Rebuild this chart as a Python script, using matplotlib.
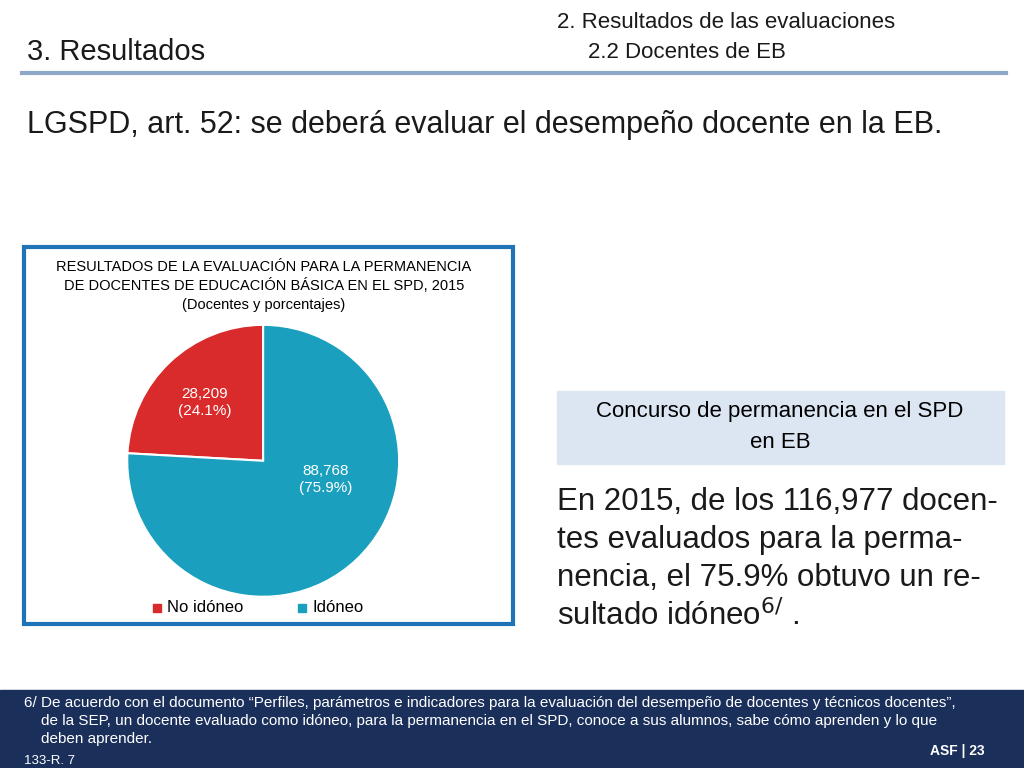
import matplotlib.pyplot as plt
from matplotlib.patches import Rectangle

plt.rcParams["font.family"] = "Liberation Sans"

# data
labels = ["No idóneo", "Idóneo"]
docentes = [28209, 88768]
porcentajes = [24.1, 75.9]
colores = ["#D92B2B", "#1AA0BE"]

W, H = 1024, 768
fig = plt.figure(figsize=(10.24, 7.68), dpi=100)
bg = fig.add_axes([0, 0, 1, 1])
bg.set_xlim(0, W)
bg.set_ylim(H, 0)
bg.axis("off")

# header
bg.text(27, 52, "3. Resultados", fontsize=21, va="center", color="#1a1a1a")
bg.text(557, 22, "2. Resultados de las evaluaciones", fontsize=16, va="center", color="#1a1a1a")
bg.text(588, 52, "2.2 Docentes de EB", fontsize=16, va="center", color="#1a1a1a")
bg.plot([22, 1006], [73, 73], color="#8EA9C8", lw=3)
bg.text(27, 125, "LGSPD, art. 52: se deberá evaluar el desempeño docente en la EB.",
        fontsize=22, va="center", color="#1a1a1a")

# chart frame
bg.add_patch(Rectangle((24, 247), 489, 377, fill=False, ec="#1F73B7", lw=3))
bg.text(264, 267, "RESULTADOS DE LA EVALUACIÓN PARA LA PERMANENCIA", fontsize=10.5, ha="center", va="center")
bg.text(264, 286, "DE DOCENTES DE EDUCACIÓN BÁSICA EN EL SPD, 2015", fontsize=10.5, ha="center", va="center")
bg.text(264, 305, "(Docentes y porcentajes)", fontsize=10.5, ha="center", va="center")

# legend
for x, lab, c in [(153, labels[0], colores[0]), (298, labels[1], colores[1])]:
    bg.add_patch(Rectangle((x, 604), 8, 8, color=c))
    bg.text(x + 14, 608, lab, fontsize=12, va="center")

# right panel
bg.add_patch(Rectangle((557, 391), 447, 73, color="#DCE6F2"))
bg.text(780, 412, "Concurso de permanencia en el SPD", fontsize=16, ha="center", va="center")
bg.text(780, 443, "en EB", fontsize=16, ha="center", va="center")
lines = ["En 2015, de los 116,977 docen-", "tes evaluados para la perma-",
         "nencia, el 75.9% obtuvo un re-", "sultado idóneo$^{6/}$ ."]
for i, t in enumerate(lines):
    bg.text(557, 502 + i * 38, t, fontsize=22.5, va="center", color="#1a1a1a")

# footer
bg.add_patch(Rectangle((0, 690), W, 78, color="#1B2F5B"))
foot = ["6/ De acuerdo con el documento “Perfiles, parámetros e indicadores para la evaluación del desempeño de docentes y técnicos docentes”,",
        "    de la SEP, un docente evaluado como idóneo, para la permanencia en el SPD, conoce a sus alumnos, sabe cómo aprenden y lo que",
        "    deben aprender."]
for i, t in enumerate(foot):
    bg.text(24, 703 + i * 18, t, fontsize=11, va="center", color="white")
bg.text(24, 761, "133-R. 7", fontsize=9.5, va="center", color="white")
bg.text(985, 751, "ASF | 23", fontsize=10, va="center", ha="right", color="white", weight="bold")

# pie
ax = fig.add_axes([0.124, 0.223, 0.266, 0.354])
ax.pie(docentes, colors=colores, startangle=90, counterclock=True, radius=1,
       wedgeprops=dict(edgecolor="white", linewidth=1.5))
ax.set_xlim(-1, 1)
ax.set_ylim(-1, 1)
ax.set_aspect("equal")
ax.text(-0.43, 0.43, f"{docentes[0]:,}\n({porcentajes[0]}%)", fontsize=11, color="white",
        ha="center", va="center", linespacing=1.3)
ax.text(0.46, -0.14, f"{docentes[1]:,}\n({porcentajes[1]}%)", fontsize=11, color="white",
        ha="center", va="center", linespacing=1.3)

fig.savefig("out.png", dpi=100)
